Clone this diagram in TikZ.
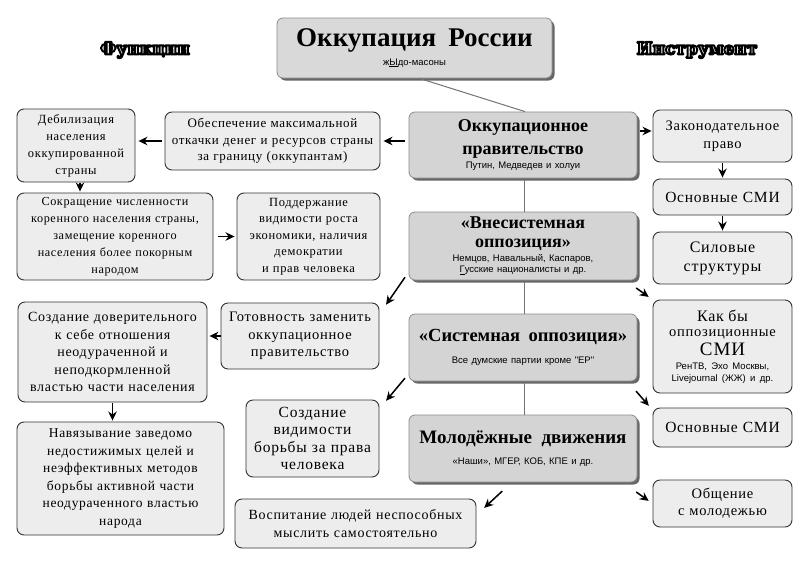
\documentclass[tikz,border=0pt]{standalone}
\usepackage{fontspec}
\setmainfont{Liberation Serif}
\newfontfamily\boxf{Liberation Serif}[LetterSpace=5.0]
\newfontfamily\sansf{Liberation Sans}
\newfontfamily\decof{DejaVu Serif}
\usetikzlibrary{shadows,arrows.meta}
\newcommand{\bigt}{\bfseries\fontsize{18}{23}\selectfont}
\newcommand{\smallt}{\sansf\fontsize{9.5}{11.5}\selectfont}
\newcommand{\bsz}[2]{\boxf\fontsize{#1}{#2}\selectfont}
\newcommand{\outl}[1]{\special{pdf:code q 2 Tr 2 w 0 G 1 j}#1\special{pdf:code Q}}
\begin{document}
\begin{tikzpicture}[x=1pt,y=-1pt,
 sidebox/.style={draw=black!80, fill=black!7, rounded corners=7pt, line width=0.9pt, align=center, inner sep=0pt, font=\bsz{13}{16.5}},
 mainbox/.style={draw=black!45, fill=black!17, rounded corners=6pt, line width=0.8pt, align=center, inner sep=0pt, text width=224pt, minimum width=228pt, drop shadow={shadow xshift=2.5pt, shadow yshift=-2.5pt, fill=black!60, opacity=1}},
 arr/.style={-{Stealth[length=9pt,width=8.5pt]}, line width=1.5pt, black, shorten >=1pt, shorten <=1pt},
 link/.style={draw=black!55, line width=1pt},
 deco/.style={font=\decof\bfseries\fontsize{17}{20}\selectfont, inner sep=0pt}
]
\useasboundingbox (0,0) rectangle (807,571);
\fill[white] (0,0) rectangle (807,571);

% outlined headings
\node[deco, text=white] (funk) at (145,50) {\outl{Функции}};
\node[deco, text=white] (instr) at (697,50) {\outl{Инструмент}};

% title
\node[mainbox, fill=black!15, text width=271pt, minimum width=275pt, minimum height=60pt] (title) at (414.5,48)
 {{\bfseries\fontsize{27}{30}\selectfont Оккупация\hspace{0.45em}России\par}\vspace{5pt}{\smallt ж\underline{Ы}до-масоны\par}};

% central column
\node[mainbox, minimum height=66pt] (okk) at (523,145)
 {{\bigt Оккупационное\\правительство\par}\vspace{3pt}{\smallt Путин, Медведев и холуи\par}};
\node[mainbox, minimum height=68pt] (vnes) at (523,246)
 {{\bfseries\fontsize{18}{19}\selectfont «Внесистемная\\оппозиция»\par}\vspace{2pt}{\smallt Немцов, Навальный, Каспаров,\\\underline{Г}усские националисты и др.\par}};
\node[mainbox, minimum height=67pt] (sist) at (523,347.5)
 {{\bfseries\fontsize{18.5}{21}\selectfont «Системная\hspace{0.45em}оппозиция»\par}\vspace{10pt}{\smallt Все думские партии кроме "ЕР"\par}};
\node[mainbox, minimum height=67pt] (mol) at (523,448.5)
 {{\bfseries\fontsize{19}{21}\selectfont Молодёжные\hspace{0.5em}движения\par}\vspace{10pt}{\smallt «Наши», МГЕР, КОБ, КПЕ и др.\par}};

% right column
\node[sidebox, text width=135pt, minimum width=139pt, minimum height=52pt, font=\bsz{14.5}{18}] (zak) at (722.5,136) {Законодательное\\право};
\node[sidebox, text width=135pt, minimum width=139pt, minimum height=36pt, font=\bsz{15.5}{18}] (smi1) at (722.5,197) {Основные СМИ};
\node[sidebox, text width=135pt, minimum width=139pt, minimum height=52pt, font=\bsz{16}{19}] (sil) at (722.5,258) {Силовые\\структуры};
\node[sidebox, text width=135pt, minimum width=139pt, minimum height=93pt] (kak) at (722.5,346.5)
 {{\bsz{16}{17}Как бы\par}{\bsz{14.5}{15}оппозиционные\par}{\bsz{19}{19}СМИ\par}\vspace{3pt}{\smallt РенТВ, Эхо Москвы,\\Livejournal (ЖЖ) и др.\par}};
\node[sidebox, text width=135pt, minimum width=139pt, minimum height=39pt, font=\bsz{15.5}{18}] (smi2) at (722.5,427.5) {Основные СМИ};
\node[sidebox, text width=135pt, minimum width=139pt, minimum height=47pt, font=\bsz{14.5}{17}] (obsh) at (722.5,503.5) {Общение\\с молодежью};

% left column
\node[sidebox, text width=211pt, minimum width=215pt, minimum height=58pt] (obesp) at (272.5,141)
 {Обеспечение максимальной\\откачки денег и ресурсов страны\\за границу (оккупантам)};
\node[sidebox, text width=114pt, minimum width=118pt, minimum height=73pt, font=\bsz{12.5}{17}] (debil) at (76,145.5)
 {Дебилизация\\населения\\оккупированной\\страны};
\node[sidebox, text width=192pt, minimum width=196pt, minimum height=87pt, font=\bsz{12.2}{17}] (sokr) at (115,236.5)
 {Сокращение численности\\коренного населения страны,\\замещение коренного\\населения более покорным\\народом};
\node[sidebox, text width=139pt, minimum width=143pt, minimum height=87pt, font=\bsz{12.5}{16.5}] (podd) at (308.5,236.5)
 {Поддержание\\видимости роста\\экономики, наличия\\демократии\\и прав человека};
\node[sidebox, text width=154pt, minimum width=158pt, minimum height=66pt, font=\bsz{14.5}{17.5}] (gotov) at (300,336)
 {Готовность заменить\\оккупационное\\правительство};
\node[sidebox, text width=185pt, minimum width=189pt, minimum height=100pt, font=\bsz{14}{17.5}] (sozd) at (112.5,352)
 {Создание доверительного\\к себе отношения\\неодураченной и\\неподкормленной\\властью части населения};
\node[sidebox, text width=203pt, minimum width=207pt, minimum height=113pt, font=\bsz{13.5}{17.5}] (navyaz) at (120.5,478.5)
 {Навязывание заведомо\\недостижимых целей и\\неэффективных методов\\борьбы активной части\\неодураченного властью\\народа};
\node[sidebox, text width=129pt, minimum width=133pt, minimum height=77pt, font=\bsz{15.5}{17.5}] (sozdv) at (312.5,438.5)
 {Создание\\видимости\\борьбы за права\\человека};
\node[sidebox, text width=237pt, minimum width=241pt, minimum height=49pt, font=\bsz{14}{18}] (vosp) at (355.5,523.5)
 {Воспитание людей неспособных\\мыслить самостоятельно};

% links in the centre
\draw[link] ([xshift=5pt]title.south) -- ([xshift=2pt]okk.north);
\draw[link] ([xshift=1pt]okk.south) -- ([xshift=1pt]vnes.north);
\draw[link] ([xshift=1pt]vnes.south) -- ([xshift=1pt]sist.north);
\draw[link] ([xshift=1pt]sist.south) -- ([xshift=1pt]mol.north);

% arrows right
\draw[arr] ([xshift=2pt,yshift=5pt]okk.east |- zak.west) -- ([yshift=5pt]zak.west);
\draw[arr] (zak.south) -- (smi1.north);
\draw[arr] (smi1.south) -- (sil.north);
\draw[arr] ([xshift=-2pt,yshift=-7pt]vnes.south east) -- ([xshift=-3pt,yshift=2pt]kak.north west);
\draw[arr] ([xshift=-2pt,yshift=-9pt]sist.south east) -- ([xshift=-3pt,yshift=1pt]smi2.north west);
\draw[arr] ([xshift=-2pt,yshift=-9pt]mol.south east) -- ([xshift=-3pt,yshift=2pt]obsh.west);

% arrows left
\draw[arr] ([xshift=-3pt]okk.west |- obesp.east) -- ([xshift=2pt]obesp.east);
\draw[arr] ([xshift=-2pt]obesp.west) -- ([xshift=2pt]obesp.west -| debil.east);
\draw[arr] ([xshift=4pt]debil.south) -- ([xshift=4pt]debil.south |- sokr.north);
\draw[arr] ([xshift=4pt]sokr.east) -- ([xshift=-1pt]sokr.east -| podd.west);
\draw[arr] ([xshift=1pt]gotov.west) -- ([xshift=1pt]gotov.west -| sozd.east);
\draw[arr] (sozd.south) -- (sozd.south |- navyaz.north);
\draw[arr] ([xshift=-3pt,yshift=4pt]vnes.south west) -- ([xshift=6pt,yshift=-3pt]gotov.north east);
\draw[arr] ([xshift=-3pt,yshift=4pt]sist.south west) -- ([xshift=6pt,yshift=-2pt]sozdv.north east);
\draw[arr] ([xshift=-20pt,yshift=-8pt]mol.south) -- ([xshift=7pt,yshift=-10pt]vosp.north east);
\end{tikzpicture}
\end{document}
